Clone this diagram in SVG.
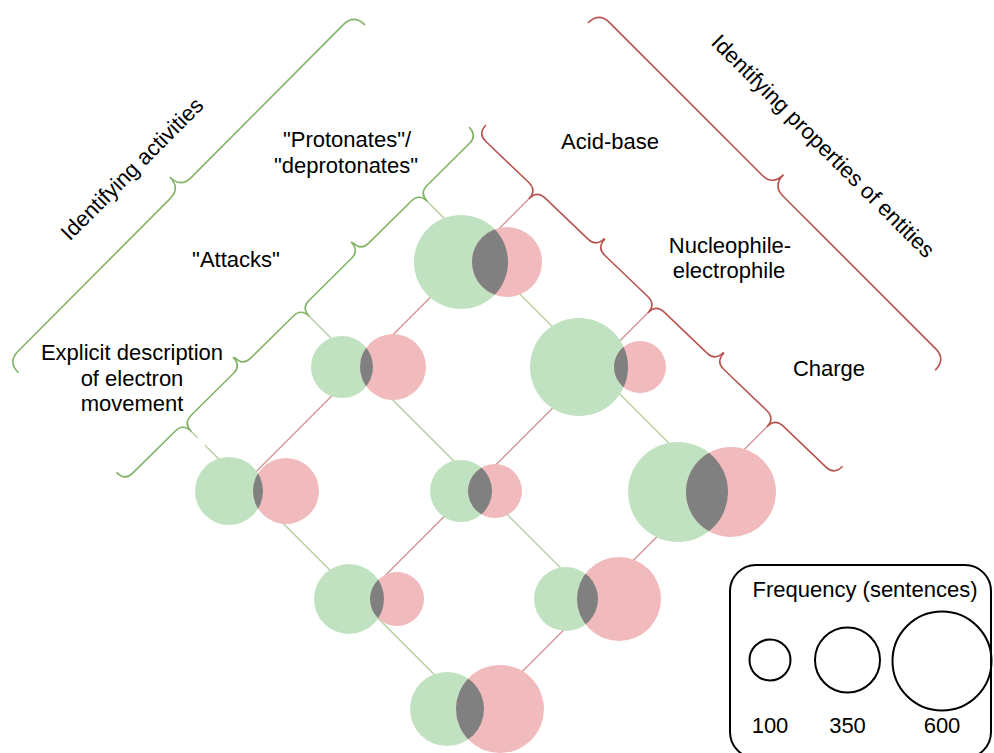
<svg xmlns="http://www.w3.org/2000/svg" xmlns:xlink="http://www.w3.org/1999/xlink" width="994" height="753" viewBox="0 0 994 753">
<style>
.gbr{fill:none;stroke:#82b366;stroke-width:1.6}
.rbr{fill:none;stroke:#b85450;stroke-width:1.6}
.gln{stroke:#82b366;stroke-opacity:0.6;stroke-width:1.5;fill:none}
.rln{stroke:#b85450;stroke-opacity:0.6;stroke-width:1.5;fill:none}
.gc{fill:#c1e2c0}
.rc{fill:#f1babc}
.ov{fill:#808080}
.lg{fill:none;stroke:#000;stroke-width:2}
text{font-family:"Liberation Sans",Arial,Helvetica,sans-serif;font-size:22px;fill:#000}
</style>
<defs>
<path id="sb" d="M0,0 Q0,-12 11,-12 L71,-12 Q82,-12 82,-24 Q82,-12 93,-12 L153,-12 Q164,-12 164,0"/>
<path id="bb" d="M0,0 Q0,-15.5 15,-15.5 L230.5,-15.5 Q245.5,-15.5 245.5,-31 Q245.5,-15.5 260.5,-15.5 L476,-15.5 Q491,-15.5 491,0"/>
<clipPath id="c1"><circle cx="461" cy="262" r="47"/></clipPath>
<clipPath id="c2"><circle cx="342" cy="367" r="31"/></clipPath>
<clipPath id="c3"><circle cx="579" cy="367" r="49"/></clipPath>
<clipPath id="c4"><circle cx="229" cy="491" r="34"/></clipPath>
<clipPath id="c5"><circle cx="461" cy="491" r="31"/></clipPath>
<clipPath id="c6"><circle cx="678" cy="492" r="50"/></clipPath>
<clipPath id="c7"><circle cx="349" cy="599" r="35"/></clipPath>
<clipPath id="c8"><circle cx="566" cy="599" r="32"/></clipPath>
<clipPath id="c9"><circle cx="447" cy="709" r="37"/></clipPath>
</defs>

<g id="braces">
<use xlink:href="#bb" class="gbr" transform="translate(365,25) rotate(134.9) scale(1,-1)"/>
<use xlink:href="#bb" class="rbr" transform="translate(588,23) rotate(45)"/>
<use xlink:href="#sb" class="gbr" transform="translate(469,127) rotate(135.3)"/>
<use xlink:href="#sb" class="gbr" transform="translate(351,242) rotate(135.3)"/>
<use xlink:href="#sb" class="gbr" transform="translate(233,357) rotate(135.3)"/>
<use xlink:href="#sb" class="rbr" transform="translate(486,125) rotate(43.7) scale(1,-1)"/>
<use xlink:href="#sb" class="rbr" transform="translate(605,239) rotate(43.7) scale(1,-1)"/>
<use xlink:href="#sb" class="rbr" transform="translate(724,353) rotate(43.7) scale(1,-1)"/>
</g>

<g id="connectors">
<line class="gln" x1="427.6" y1="201.8" x2="698" y2="472.2"/>
<line class="gln" x1="309.6" y1="316.8" x2="579" y2="586.2"/>
<line class="gln" x1="191.6" y1="431.8" x2="197.5" y2="437.7"/>
<line class="gln" x1="205" y1="445.2" x2="458" y2="698.2"/>
<line class="rln" x1="528.7" y1="199" x2="250" y2="477.7"/>
<line class="rln" x1="647.7" y1="313" x2="372" y2="588.7"/>
<line class="rln" x1="766.7" y1="427" x2="492" y2="701.7"/>
</g>

<g id="n1"><circle class="gc" cx="461" cy="262" r="47"/><circle class="rc" cx="507" cy="262" r="35"/><circle class="ov" cx="507" cy="262" r="35" clip-path="url(#c1)"/></g>
<g id="n2"><circle class="gc" cx="342" cy="367" r="31"/><circle class="rc" cx="393" cy="367" r="33"/><circle class="ov" cx="393" cy="367" r="33" clip-path="url(#c2)"/></g>
<g id="n3"><circle class="gc" cx="579" cy="367" r="49"/><circle class="rc" cx="640" cy="367" r="26"/><circle class="ov" cx="640" cy="367" r="26" clip-path="url(#c3)"/></g>
<g id="n4"><circle class="gc" cx="229" cy="491" r="34"/><circle class="rc" cx="286" cy="491" r="33"/><circle class="ov" cx="286" cy="491" r="33" clip-path="url(#c4)"/></g>
<g id="n5"><circle class="gc" cx="461" cy="491" r="31"/><circle class="rc" cx="495" cy="491" r="27"/><circle class="ov" cx="495" cy="491" r="27" clip-path="url(#c5)"/></g>
<g id="n6"><circle class="gc" cx="678" cy="492" r="50"/><circle class="rc" cx="731" cy="492" r="45"/><circle class="ov" cx="731" cy="492" r="45" clip-path="url(#c6)"/></g>
<g id="n7"><circle class="gc" cx="349" cy="599" r="35"/><circle class="rc" cx="397" cy="599" r="27"/><circle class="ov" cx="397" cy="599" r="27" clip-path="url(#c7)"/></g>
<g id="n8"><circle class="gc" cx="566" cy="599" r="32"/><circle class="rc" cx="619" cy="599" r="42"/><circle class="ov" cx="619" cy="599" r="42" clip-path="url(#c8)"/></g>
<g id="n9"><circle class="gc" cx="447" cy="709" r="37"/><circle class="rc" cx="500" cy="709" r="44"/><circle class="ov" cx="500" cy="709" r="44" clip-path="url(#c9)"/></g>

<g id="labels">
<text transform="translate(133,170) rotate(-45)" text-anchor="middle" y="6">Identifying activities</text>
<text transform="translate(822,147) rotate(45)" text-anchor="middle" y="6">Identifying properties of entities</text>
<text x="347" y="147" text-anchor="middle">"Protonates"/</text>
<text x="346" y="173" text-anchor="middle">"deprotonates"</text>
<text x="236" y="267" text-anchor="middle">"Attacks"</text>
<text x="132" y="360" text-anchor="middle">Explicit description</text>
<text x="132" y="386" text-anchor="middle">of electron</text>
<text x="132" y="411" text-anchor="middle">movement</text>
<text x="610" y="149" text-anchor="middle">Acid-base</text>
<text x="730" y="253" text-anchor="middle">Nucleophile-</text>
<text x="729" y="278" text-anchor="middle">electrophile</text>
<text x="829" y="376" text-anchor="middle">Charge</text>
</g>

<g id="legend">
<rect class="lg" x="730" y="565" width="261" height="193" rx="26" ry="26"/>
<text x="865" y="597" text-anchor="middle">Frequency (sentences)</text>
<circle class="lg" cx="770" cy="660" r="20.5"/>
<circle class="lg" cx="847.5" cy="660" r="32.5"/>
<circle class="lg" cx="942" cy="661" r="49.5"/>
<text x="770" y="733" text-anchor="middle">100</text>
<text x="847.5" y="733" text-anchor="middle">350</text>
<text x="942" y="733" text-anchor="middle">600</text>
</g>
</svg>
